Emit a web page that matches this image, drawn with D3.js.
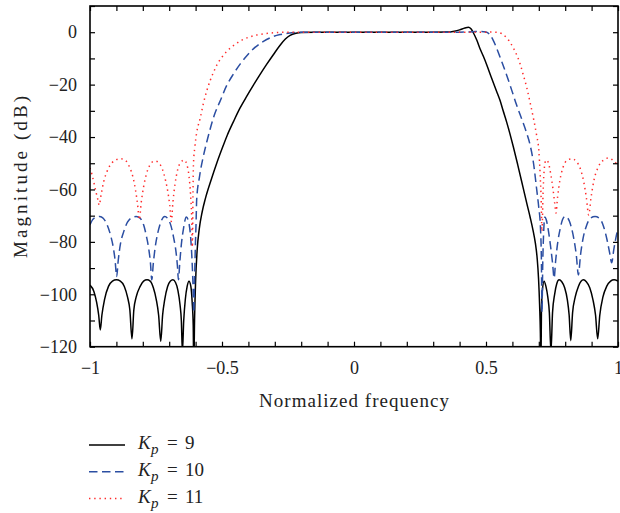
<!DOCTYPE html>
<html><head><meta charset="utf-8">
<script src="https://cdn.jsdelivr.net/npm/d3@7"></script>
<style>body{margin:0;background:#fff}svg{display:block}text{font-family:"Liberation Serif","DejaVu Serif",serif;fill:#222}</style>
</head><body><svg id="c" width="620" height="513"></svg>
<script>
const xTickLabels = [-1, -0.5, 0, 0.5, 1];
const yTickLabels = [-120, -100, -80, -60, -40, -20, 0];
const seriesNames = ["9", "10", "11"];
const kp9 = [[-1.0,-96.5],[-0.985,-99],[-0.975,-103],[-0.967,-108],[-0.961,-113.6],[-0.955,-108],[-0.945,-102],[-0.93,-97],[-0.915,-95],[-0.9,-94.5],[-0.885,-95],[-0.87,-97],[-0.858,-101],[-0.849,-106],[-0.841,-117],[-0.834,-106],[-0.825,-101],[-0.81,-97],[-0.797,-95],[-0.784,-94.5],[-0.772,-95],[-0.76,-97.5],[-0.749,-102],[-0.74,-108],[-0.732,-118],[-0.725,-108],[-0.717,-102],[-0.706,-97],[-0.696,-95],[-0.686,-94.5],[-0.676,-95.5],[-0.667,-98.5],[-0.659,-104],[-0.654,-110],[-0.65,-122],[-0.645,-110],[-0.639,-102],[-0.632,-97],[-0.625,-95],[-0.618,-97],[-0.613,-103],[-0.609,-112],[-0.607,-130],[-0.604,-110],[-0.6,-95],[-0.594,-83],[-0.586,-75],[-0.575,-68.5],[-0.563,-63.5],[-0.54,-56],[-0.52,-50],[-0.5,-44.5],[-0.48,-39.3],[-0.456,-34],[-0.432,-29],[-0.406,-24.4],[-0.381,-20.2],[-0.355,-16],[-0.331,-12.3],[-0.305,-8.5],[-0.28,-5],[-0.26,-2.6],[-0.242,-1.2],[-0.22,-0.4],[-0.2,-0.1],[-0.15,0],[0.3,0],[0.35,0.05],[0.38,0.4],[0.4,0.9],[0.42,1.6],[0.433,1.9],[0.443,1.3],[0.452,-0.2],[0.465,-3],[0.477,-6.2],[0.49,-9.2],[0.503,-12.5],[0.52,-17.2],[0.54,-22.5],[0.553,-26],[0.565,-30],[0.578,-34.2],[0.59,-38.5],[0.603,-43.5],[0.62,-50.5],[0.641,-59.5],[0.655,-65.5],[0.667,-70.5],[0.678,-75.5],[0.687,-80.5],[0.694,-86.5],[0.699,-94],[0.703,-104],[0.706,-115],[0.708,-130],[0.71,-106],[0.714,-98],[0.72,-95],[0.727,-97],[0.734,-101],[0.74,-107],[0.746,-122],[0.752,-107],[0.76,-100],[0.768,-96],[0.777,-94.5],[0.787,-95.2],[0.798,-97.5],[0.808,-102],[0.815,-108],[0.821,-117.7],[0.828,-107],[0.838,-101],[0.85,-97],[0.86,-95],[0.869,-94.5],[0.88,-95.2],[0.893,-97.5],[0.905,-102],[0.915,-108],[0.923,-117],[0.931,-108],[0.943,-101],[0.957,-97],[0.972,-95],[0.985,-94.5],[1.0,-95]];
const kp10 = [[-1.0,-73.5],[-0.99,-71.5],[-0.975,-70.5],[-0.963,-70.3],[-0.95,-71],[-0.935,-73.5],[-0.922,-77.5],[-0.912,-82],[-0.905,-87],[-0.899,-93.2],[-0.893,-87],[-0.885,-81],[-0.872,-76],[-0.858,-72.5],[-0.842,-70.8],[-0.825,-70.3],[-0.81,-71],[-0.797,-73.5],[-0.786,-78],[-0.777,-83],[-0.771,-88],[-0.766,-94.5],[-0.76,-88],[-0.753,-82],[-0.743,-76.5],[-0.73,-72],[-0.717,-70.3],[-0.705,-71.2],[-0.693,-74],[-0.683,-78.5],[-0.674,-84],[-0.669,-89],[-0.665,-94.5],[-0.66,-88],[-0.654,-81],[-0.646,-75],[-0.635,-70.5],[-0.626,-72.5],[-0.619,-78],[-0.614,-86],[-0.61,-96],[-0.607,-107],[-0.604,-95],[-0.601,-82],[-0.598,-72],[-0.596,-64],[-0.585,-55],[-0.571,-47.5],[-0.558,-42],[-0.545,-37],[-0.527,-31],[-0.508,-26.5],[-0.483,-20.5],[-0.457,-16],[-0.43,-12],[-0.406,-9],[-0.375,-5.8],[-0.343,-3.5],[-0.31,-1.8],[-0.28,-0.9],[-0.25,-0.4],[-0.22,-0.1],[-0.18,0],[0.4,0],[0.45,0.2],[0.48,0.3],[0.5,0.1],[0.515,-1.0],[0.527,-3],[0.54,-6],[0.558,-10.8],[0.578,-16.3],[0.597,-22],[0.616,-27.8],[0.635,-33],[0.654,-38.5],[0.667,-43],[0.68,-50],[0.692,-60],[0.7,-67],[0.706,-74],[0.71,-88],[0.712,-107],[0.715,-88],[0.719,-75],[0.723,-70.5],[0.728,-71.5],[0.736,-75.5],[0.745,-82],[0.752,-88],[0.758,-93.8],[0.764,-87],[0.772,-80],[0.782,-74.5],[0.79,-71.5],[0.799,-70.3],[0.81,-71],[0.822,-74],[0.833,-79],[0.842,-85],[0.85,-92.6],[0.858,-85],[0.868,-78.5],[0.88,-74],[0.895,-71],[0.913,-70.3],[0.93,-71],[0.945,-74],[0.958,-79],[0.968,-84],[0.976,-88],[0.984,-83],[0.992,-78.5],[1.0,-74.8]];
const kp11 = [[-1.0,-51.8],[-0.992,-54.5],[-0.984,-58],[-0.976,-61.5],[-0.97,-64],[-0.965,-66],[-0.958,-62],[-0.948,-57],[-0.935,-53],[-0.918,-50],[-0.9,-48.6],[-0.885,-48.3],[-0.865,-49],[-0.85,-51.5],[-0.838,-55],[-0.828,-60],[-0.82,-65.5],[-0.813,-71.5],[-0.806,-65],[-0.797,-59],[-0.786,-54],[-0.772,-50.5],[-0.76,-49.3],[-0.752,-49.2],[-0.738,-50],[-0.725,-52.5],[-0.714,-56.5],[-0.705,-61],[-0.698,-66],[-0.692,-72.2],[-0.686,-65],[-0.678,-58],[-0.668,-52.5],[-0.655,-49.5],[-0.643,-48.8],[-0.633,-50.5],[-0.625,-55],[-0.619,-62],[-0.615,-70],[-0.612,-82],[-0.61,-62],[-0.608,-50],[-0.603,-44],[-0.596,-38.4],[-0.583,-33],[-0.57,-27],[-0.558,-22.5],[-0.545,-18.5],[-0.533,-15.5],[-0.52,-12.6],[-0.5,-9.5],[-0.482,-7.3],[-0.463,-5.6],[-0.444,-4.2],[-0.42,-2.8],[-0.395,-1.8],[-0.369,-1.1],[-0.34,-0.6],[-0.3,-0.2],[-0.26,0],[0.5,0],[0.52,0.05],[0.54,0],[0.56,-0.6],[0.578,-2.1],[0.597,-4.8],[0.616,-8.6],[0.629,-12],[0.641,-16.2],[0.654,-21],[0.667,-26.8],[0.68,-33],[0.692,-39.5],[0.7,-45],[0.705,-54],[0.709,-64],[0.712,-76],[0.716,-62],[0.72,-53],[0.727,-48.8],[0.735,-49.5],[0.745,-54],[0.754,-60],[0.76,-65],[0.765,-69],[0.771,-63],[0.78,-56.5],[0.792,-51.5],[0.808,-48.8],[0.825,-48.3],[0.842,-49.3],[0.857,-52],[0.87,-57],[0.88,-63],[0.889,-69.7],[0.898,-63],[0.91,-56],[0.925,-51.5],[0.945,-48.8],[0.965,-48],[0.982,-49],[1.0,-50.8]];

const series = [
  {name: seriesNames[0], data: kp9, color: "#000000", dash: null},
  {name: seriesNames[1], data: kp10, color: "#2b4ea2", dash: "8.5,4.5"},
  {name: seriesNames[2], data: kp11, color: "#ff2a2a", dash: "1.4,3.8"}
];

const svg = d3.select("#c");
const L = 90, T = 6, R = 618, B = 346.7;
const x = d3.scaleLinear().domain([-1, 1]).range([L, R]);
const y = d3.scaleLinear().domain([-120, 10]).range([B, T]);

svg.append("clipPath").attr("id","clip").append("rect")
  .attr("x", L).attr("y", T).attr("width", R-L).attr("height", B-T);

const line = d3.line().x(d => x(d[0])).y(d => y(Math.max(d[1], -135))).curve(d3.curveMonotoneX);

const g = svg.append("g").attr("clip-path","url(#clip)");
series.forEach(s => {
  g.append("path").attr("d", line(s.data)).attr("fill","none")
    .attr("stroke", s.color).attr("stroke-width", 1.5)
    .attr("stroke-dasharray", s.dash);
});

const xt = d3.range(-10, 11).map(i => i/10);
const yt = d3.range(-120, 11, 10);
const fmt = d3.format("");

const ax = svg.append("g").attr("transform", `translate(0,${B})`)
  .call(d3.axisBottom(x).tickValues(xt).tickSizeInner(-5).tickSizeOuter(0).tickPadding(15)
    .tickFormat(d => xTickLabels.some(v => Math.abs(v-d) < 1e-9) ? fmt(d) : ""));
const axTop = svg.append("g").attr("transform", `translate(0,${T})`)
  .call(d3.axisTop(x).tickValues(xt).tickSizeInner(-5).tickSizeOuter(0).tickFormat(""));
const ay = svg.append("g").attr("transform", `translate(${L},0)`)
  .call(d3.axisLeft(y).tickValues(yt).tickSizeInner(-5).tickSizeOuter(0).tickPadding(13)
    .tickFormat(d => yTickLabels.includes(d) ? fmt(d) : ""));
const ayR = svg.append("g").attr("transform", `translate(${R},0)`)
  .call(d3.axisRight(y).tickValues(yt).tickSizeInner(-5).tickSizeOuter(0).tickFormat(""));
[ax, axTop, ay, ayR].forEach(a => {
  a.select(".domain").remove();
  a.selectAll(".tick line").attr("stroke","#000").attr("stroke-width",1.2);
  a.selectAll("text").attr("font-size", 18).attr("font-family", '"Liberation Serif", serif').attr("fill","#222");
});

svg.append("rect").attr("x", L).attr("y", T).attr("width", R-L).attr("height", B-T)
  .attr("fill","none").attr("stroke","#000").attr("stroke-width",1.6);

svg.append("text").attr("x", (L+R)/2).attr("y", 407).attr("text-anchor","middle")
  .attr("font-size", 19).attr("textLength", 190).attr("lengthAdjust","spacing").text("Normalized frequency");
svg.append("text").attr("transform","translate(27,177) rotate(-90)").attr("text-anchor","middle")
  .attr("font-size", 19).attr("textLength", 162).attr("lengthAdjust","spacing").text("Magnitude (dB)");

const leg = svg.append("g");
series.forEach((s, i) => {
  const yy = 445 + i*26.8;
  leg.append("line").attr("x1", 89).attr("x2", 125).attr("y1", yy).attr("y2", yy)
    .attr("stroke", s.color).attr("stroke-width", 1.5).attr("stroke-dasharray", s.dash);
  const t = leg.append("text").attr("y", yy + 4).attr("font-size", 19);
  t.append("tspan").attr("x", 138).attr("font-style","italic").text("K");
  t.append("tspan").attr("x", 151).attr("font-style","italic").attr("font-size", 15).attr("dy", 5).text("p");
  t.append("tspan").attr("x", 167).attr("dy", -5).text("=");
  t.append("tspan").attr("x", 185).text(s.name);
});
</script></body></html>
